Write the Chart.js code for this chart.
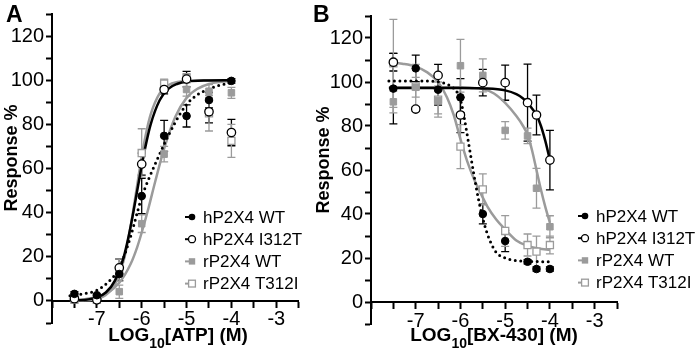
<!DOCTYPE html>
<html>
<head>
<meta charset="utf-8">
<script src="https://cdn.jsdelivr.net/npm/chart.js@4.4.1/dist/chart.umd.min.js"></script>
<style>
  html, body { margin: 0; padding: 0; background: #fff; }
  #wrap { position: relative; width: 699px; height: 353px; overflow: hidden; }
  canvas { position: absolute; top: 0; }
  #cA { left: 0; }
  #cB { left: 305px; }
</style>
</head>
<body>
<div id="wrap">
  <canvas id="cA" width="305" height="353"></canvas>
  <canvas id="cB" width="394" height="353"></canvas>
</div>
<script>
const seriesNames = ["hP2X4 WT", "hP2X4 I312T", "rP2X4 WT", "rP2X4 T312I"];

// panel A - ATP concentration response (mean, SEM)
const atpLog = [-7.5, -7, -6.5, -6, -5.5, -5, -4.5, -4];
const atpHWT = [3.2, 2.6, 12.2, 47.5, 74.8, 83.8, 91, 99.7];
const atpHWTErr = [1, 0.5, 3, 8, 7, 5, 3.5, 1];
const atpHI312T = [1, 0.5, 15, 62, 95.8, 100.5, 85.7, 76.3];
const atpHI312TErr = [0.5, 0.5, 4, 5, 2, 3.5, 5, 6];
const atpRWT = [0.5, 0.3, 4.2, 35, 66.5, 95.8, 95, 94.3];
const atpRWTErr = [0.5, 0.5, 3, 4, 3.5, 3, 3, 2.5];
const atpRT312I = [0.5, 0.5, 14, 67, 98.5, 101, 85, 72.5];
const atpRT312IErr = [0.5, 0.5, 5, 11, 2, 2, 8, 7.5];

// panel A fitted curves
const atpFitX = [-7.6, -7.3, -7.0, -6.8, -6.6, -6.4, -6.3, -6.2, -6.1, -6.0, -5.9, -5.8, -5.6, -5.4, -5.2, -5.0, -4.5, -4.0];
const atpFitHI312T = [0.1, 0.4, 1.6, 3.8, 9.1, 20, 28.5, 38.7, 50, 61.3, 71.5, 80, 90.9, 96.2, 98.4, 99.4, 99.9, 100];
const atpFitRT312I = [0, 0.2, 0.9, 2.7, 7.3, 18.5, 27.8, 39.5, 52.6, 65.4, 76.2, 84.5, 94, 97.8, 99.2, 99.7, 100, 100];
const atpFitX2 = [-7.6, -7.3, -7.0, -6.75, -6.5, -6.25, -6.1, -6.0, -5.85, -5.7, -5.5, -5.25, -5.0, -4.75, -4.5, -4.25, -4.0];
const atpFitHWT = [2.3, 3.2, 4.8, 8.5, 15, 29, 40, 47, 55, 62, 71, 81, 89, 93.5, 96, 97.8, 98.8];
const atpFitRWT = [0.3, 0.7, 1.8, 3.8, 8.2, 16.6, 24.4, 31, 42, 54, 69, 83.4, 92, 96.2, 98.3, 99.2, 99.6];

// panel B - BX-430 inhibition (mean, SEM)
const bxLog = [-7.5, -7, -6.5, -6, -5.5, -5, -4.5, -4.3, -4];
const bxHWT = [97, 106.2, 96.5, 93, 40, 27.7, 18.3, 15, 15];
const bxHWTErr = [16, 6, 7, 8.5, 4.5, 4.8, 1, 1, 1];
const bxHI312T = [109, 87.7, 103, 85, 99.7, 99.7, 90.6, 85, 64.5];
const bxHI312TErr = [4, 1, 5, 8, 6, 8, 17.5, 9, 13.5];
const bxRWT = [91, 97.6, 91.5, 107.4, 103, 78, 75.5, 51.7, 34.2];
const bxRWTErr = [5, 4.5, 6, 12, 7.5, 4, 3.5, 9, 5];
const bxRT312I = [108.5, 98, 92, 70.6, 51.2, 32.3, 25.9, 22.9, 25.9];
const bxRT312IErr = [20, 10, 8, 10, 7, 7, 5, 7, 4];

// panel B fitted curves
const bxFitX = [-7.6, -7.3, -7.0, -6.75, -6.5, -6.3, -6.15, -6.0, -5.85, -5.7, -5.55, -5.4, -5.2, -5.0, -4.75, -4.5, -4.25, -4.0];
const bxFitRT312I = [109, 108.3, 107, 104.5, 100, 93, 85, 74, 64, 56, 49.5, 43.5, 37.5, 33, 28, 25.5, 24.3, 23.7];
const bxFitX2 = [-7.6, -7.0, -6.6, -6.3, -6.1, -6.0, -5.9, -5.8, -5.7, -5.6, -5.5, -5.4, -5.3, -5.2, -5.0, -4.75, -4.5, -4.0];
const bxFitHWT = [100.5, 100.5, 100.3, 99, 96, 92, 82, 70, 58, 47, 38, 31, 26, 22.5, 20, 18.8, 18.5, 18.3];
const bxFitX3 = [-7.6, -6.0, -5.75, -5.5, -5.25, -5.0, -4.75, -4.6, -4.5, -4.4, -4.3, -4.2, -4.1, -4.0];
const bxFitRWT = [97.6, 97.6, 97.3, 96.8, 94.8, 90.5, 84.5, 80, 76, 69, 60, 51, 43, 36];
const bxFitX4 = [-7.6, -6.0, -5.5, -5.0, -4.75, -4.6, -4.5, -4.4, -4.3, -4.2, -4.1, -4.0];
const bxFitHI312T = [97.3, 97.3, 97.1, 96.2, 94.5, 92.5, 90.5, 88, 85, 80, 73, 64.5];

const GRAY = "#9b9b9b";
const FONT = '"Liberation Sans", Arial, Helvetica, sans-serif';

function pts(xs, ys) {
  return xs.map((x, i) => ({ x: x, y: ys[i] }));
}

// error bars drawn under the points
const errorBars = {
  id: "errorBars",
  beforeDatasetsDraw(chart) {
    const { ctx, chartArea, scales } = chart;
    ctx.save();
    ctx.beginPath();
    ctx.rect(chartArea.left, chartArea.top, chartArea.width, chartArea.height);
    ctx.clip();
    ctx.lineWidth = 1.3;
    chart.data.datasets.forEach((ds) => {
      if (!ds.errors) return;
      ctx.strokeStyle = ds.errColor;
      ds.data.forEach((p, i) => {
        const e = ds.errors[i];
        const px = scales.x.getPixelForValue(p.x);
        const top = scales.y.getPixelForValue(p.y + e);
        const bot = scales.y.getPixelForValue(p.y - e);
        ctx.beginPath();
        ctx.moveTo(px, top); ctx.lineTo(px, bot);
        ctx.moveTo(px - 4, top); ctx.lineTo(px + 4, top);
        ctx.moveTo(px - 4, bot); ctx.lineTo(px + 4, bot);
        ctx.stroke();
      });
    });
    ctx.restore();
  }
};

function legendMarker(ctx, i, x, y) {
  ctx.lineWidth = 1.3;
  if (i === 0) {
    ctx.fillStyle = "#000";
    ctx.beginPath(); ctx.arc(x, y, 3.3, 0, Math.PI * 2); ctx.fill();
  } else if (i === 1) {
    ctx.fillStyle = "#fff"; ctx.strokeStyle = "#000";
    ctx.beginPath(); ctx.arc(x, y, 3.5, 0, Math.PI * 2); ctx.fill(); ctx.stroke();
  } else if (i === 2) {
    ctx.fillStyle = GRAY;
    ctx.fillRect(x - 3.2, y - 3.2, 6.4, 6.4);
  } else {
    ctx.fillStyle = "#fff"; ctx.strokeStyle = GRAY;
    ctx.fillRect(x - 3.4, y - 3.4, 6.8, 6.8);
    ctx.strokeRect(x - 3.4, y - 3.4, 6.8, 6.8);
  }
}

const panelText = {
  id: "panelText",
  afterDraw(chart, args, o) {
    const ctx = chart.ctx;
    ctx.save();
    ctx.fillStyle = "#000";

    // panel letter
    ctx.font = "bold 23px " + FONT;
    ctx.textBaseline = "alphabetic";
    ctx.fillText(o.letter, o.letterX, 22);

    // y title
    ctx.save();
    ctx.translate(o.yTitleX, o.yTitleY);
    ctx.rotate(-Math.PI / 2);
    ctx.font = "bold 18px " + FONT;
    ctx.textAlign = "center";
    ctx.fillText("Response %", 0, 0);
    ctx.restore();

    // x title with subscript
    const big = "bold 19px " + FONT, small = "bold 14px " + FONT;
    ctx.font = big; const w1 = ctx.measureText("LOG").width;
    ctx.font = small; const w2 = ctx.measureText("10").width;
    ctx.font = big; const w3 = ctx.measureText(o.xTitle).width;
    let x0 = o.xTitleX - (w1 + w2 + w3) / 2;
    const yb = 341;
    ctx.font = big; ctx.fillText("LOG", x0, yb);
    ctx.font = small; ctx.fillText("10", x0 + w1, yb + 7);
    ctx.font = big; ctx.fillText(o.xTitle, x0 + w1 + w2, yb);

    // legend
    ctx.font = "17px " + FONT;
    ctx.textBaseline = "middle";
    seriesNames.forEach((name, i) => {
      const y = o.legendY + i * 22.2;
      const mx = o.legendX;
      ctx.strokeStyle = i < 2 ? "#000" : GRAY;
      ctx.lineWidth = 2;
      ctx.beginPath(); ctx.moveTo(mx - 7, y); ctx.lineTo(mx - 1, y); ctx.stroke();
      legendMarker(ctx, i, mx, y);
      ctx.fillStyle = "#000";
      ctx.fillText(name, mx + 11, y + 1);
    });
    ctx.restore();
  }
};

function makePanel(id, p) {
  const pointSets = [
    { data: pts(p.x, p.hwt), errors: p.hwtErr, errColor: "#000", pointStyle: "circle", pointRadius: 3.8,
      backgroundColor: "#000", borderColor: "#000", borderWidth: 1 },
    { data: pts(p.x, p.hi), errors: p.hiErr, errColor: "#000", pointStyle: "circle", pointRadius: 4.2,
      backgroundColor: "#fff", borderColor: "#000", borderWidth: 1.3 },
    { data: pts(p.x, p.rwt), errors: p.rwtErr, errColor: GRAY, pointStyle: "rect", pointRadius: 4.6,
      backgroundColor: GRAY, borderColor: GRAY, borderWidth: 1 },
    { data: pts(p.x, p.rt), errors: p.rtErr, errColor: GRAY, pointStyle: "rect", pointRadius: 5,
      backgroundColor: "#fff", borderColor: GRAY, borderWidth: 1.3 }
  ];
  const curve = (data, color, dotted) => ({
    data: data, showLine: true, pointRadius: 0, borderColor: color, backgroundColor: color,
    borderWidth: dotted ? 3 : 2.5, borderDash: dotted ? [0, 5.5] : [], borderCapStyle: dotted ? "round" : "butt",
    cubicInterpolationMode: "monotone", fill: false
  });
  const curves = [
    curve(p.fitHwt, "#000", true),
    curve(p.fitHi, "#000", false),
    curve(p.fitRwt, GRAY, false),
    curve(p.fitRt, GRAY, false)
  ];
  const tickFont = { family: FONT, size: 20 };
  const axisCommon = {
    grid: { drawOnChartArea: false, drawTicks: true, tickLength: 6, tickWidth: 2, tickColor: "#000" },
    border: { display: true, color: "#000", width: 2 }
  };

  return new Chart(document.getElementById(id), {
    type: "scatter",
    data: { datasets: pointSets.concat(curves) },
    options: {
      responsive: false,
      animation: false,
      events: [],
      layout: { padding: { left: 0, right: p.padRight, top: p.top, bottom: 353 - p.bottom } },
      plugins: {
        legend: { display: false },
        tooltip: { enabled: false },
        panelText: p.text
      },
      scales: {
        x: Object.assign({
          type: "linear", min: -8, max: -2.5, position: { y: 0 },
          ticks: {
            stepSize: 0.5, autoSkip: false, maxRotation: 0, padding: 1, color: "#000", font: tickFont,
            callback: (v) => (Number.isInteger(v) && v >= -7) ? String(v) : ""
          }
        }, axisCommon),
        y: Object.assign({
          type: "linear", min: -10, max: 130,
          afterFit: (s) => { s.width = p.left; },
          ticks: {
            stepSize: 10, autoSkip: false, padding: 2, color: "#000", font: tickFont,
            callback: (v) => (v >= 0 && v % 20 === 0) ? String(v) : ""
          }
        }, axisCommon)
      }
    },
    plugins: [errorBars, panelText]
  });
}

makePanel("cA", {
  x: atpLog,
  hwt: atpHWT, hwtErr: atpHWTErr, hi: atpHI312T, hiErr: atpHI312TErr,
  rwt: atpRWT, rwtErr: atpRWTErr, rt: atpRT312I, rtErr: atpRT312IErr,
  fitHwt: pts(atpFitX2, atpFitHWT), fitHi: pts(atpFitX, atpFitHI312T),
  fitRwt: pts(atpFitX2, atpFitRWT), fitRt: pts(atpFitX, atpFitRT312I),
  left: 52, padRight: 5, top: 14, bottom: 323,
  text: { letter: "A", letterX: 6, yTitleX: 17, yTitleY: 158, xTitle: "[ATP] (M)", xTitleX: 178,
          legendX: 192, legendY: 217 }
});

makePanel("cB", {
  x: bxLog,
  hwt: bxHWT, hwtErr: bxHWTErr, hi: bxHI312T, hiErr: bxHI312TErr,
  rwt: bxRWT, rwtErr: bxRWTErr, rt: bxRT312I, rtErr: bxRT312IErr,
  fitHwt: pts(bxFitX2, bxFitHWT), fitHi: pts(bxFitX4, bxFitHI312T),
  fitRwt: pts(bxFitX3, bxFitRWT), fitRt: pts(bxFitX, bxFitRT312I),
  left: 66, padRight: 82, top: 16, bottom: 324,
  text: { letter: "B", letterX: 8, yTitleX: 24, yTitleY: 160, xTitle: "[BX-430] (M)", xTitleX: 189,
          legendX: 280, legendY: 216 }
});
</script>
</body>
</html>
